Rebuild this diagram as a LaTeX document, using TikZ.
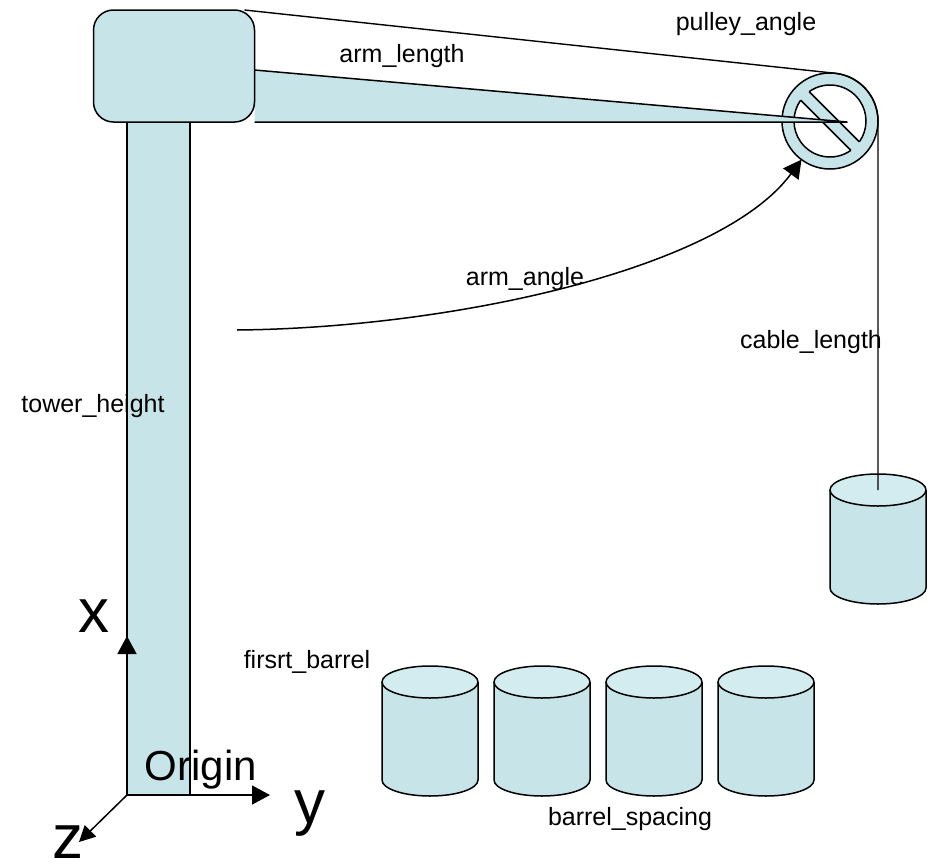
\documentclass[tikz,border=0pt]{standalone}
\usepackage{fontspec}
\setmainfont{Liberation Sans}
\usepackage{tikz}
\usetikzlibrary{arrows.meta,calc,backgrounds}
\definecolor{craneblue}{HTML}{C7E5E9}
\definecolor{cranetop}{HTML}{D3ECEF}

\begin{document}
\begin{tikzpicture}[
  x=1pt, y=-1pt,
  part/.style={
    draw=black, fill=craneblue, line width=1.5pt, line join=round,
  },
  axis/.style={
    -{Triangle[length=18pt,width=19pt]}, line width=1.5pt,
  },
  cable/.style={line width=1.4pt},
  tag/.style={font=\fontsize{25}{30}\selectfont, anchor=base, inner sep=0pt},
  bigtag/.style={font=\fontsize{62}{70}\selectfont, anchor=base, inner sep=0pt},
  barrel/.pic={
    \filldraw[part] (-48,0) -- (-48,98)
      arc[start angle=180, end angle=0, x radius=48, y radius=16] -- (48,0);
    \filldraw[part, fill=cranetop] (0,0) ellipse[x radius=48, y radius=16];
    \coordinate (-top) at (0,0);
  },
]
  \useasboundingbox (0,0) rectangle (935,863);

  % Tower and head
  \node[part, minimum width=63pt, minimum height=673pt, inner sep=0pt,
    outer sep=0pt, anchor=south west] (tower) at (127,795) {};
  \node[part, rounded corners=20pt, minimum width=161pt, minimum height=112pt,
    inner sep=0pt, outer sep=0pt] (head) at (174,66) {};

  \begin{scope}[on background layer]
    % Pulley (ring with a bar across)
    \node[part, circle, minimum size=96pt, inner sep=0pt, outer sep=0pt]
      (pulley) at (830,121) {};
    \begin{scope}[shift={(pulley.center)}, rotate=-45, line width=1.5pt]
      \fill[white] (0,0) circle[radius=36];
      \fill[craneblue] (-37,-6) rectangle (37,6);
      \draw (9.6:36) arc[start angle=9.6, end angle=170.4, radius=36];
      \draw (189.6:36) arc[start angle=189.6, end angle=350.4, radius=36];
      \draw (170.4:36) -- (9.6:36);
      \draw (189.6:36) -- (350.4:36);
    \end{scope}

    % Arm
    \coordinate (armtip) at (847,122);
    \filldraw[part] ([yshift=-4pt]head.east) -- (armtip) -- (head.south east);
  \end{scope}

  % Barrels
  \foreach \i in {0,...,3}
    \pic (b\i) at (430+112*\i,682) {barrel};
  \pic (hang) at (878,490) {barrel};

  % Cable over the pulley
  \draw[cable] ([xshift=-10pt]head.north east)
    -- ($(pulley.center)+(-84:48)$)
    arc[start angle=-84, end angle=0, radius=48] -- (hang-top);

  % Arm angle
  \coordinate (swing) at (237,330);
  \draw[axis] (swing) .. controls (450,328) and (720,270) .. (pulley);

  % Axes
  \coordinate (origin) at (127,795);
  \coordinate (xend) at (127,636);
  \coordinate (yend) at (270,795);
  \coordinate (zend) at (79,842);
  \draw[axis] (origin) -- (xend);
  \draw[axis] (origin) -- (yend);
  \draw[axis, -{Triangle[length=16pt,width=16pt]}] (origin) -- (zend);

  % Labels
  \node[tag] (armlength) at (402,62) {arm\_length};
  \node[tag] (pulleyangle) at (746,30) {pulley\_angle};
  \node[tag] (armangle) at (525,285) {arm\_angle};
  \node[tag] (cablelength) at (811,348) {cable\_length};
  \node[tag] (towerheight) at (93,412) {tower\_height};
  \node[tag] (firstbarrel) at (307,668) {firsrt\_barrel};
  \node[tag] (spacing) at (630,825) {barrel\_spacing};
  \node[bigtag] (xlabel) at (94,632) {x};
  \node[bigtag] (ylabel) at (310,823) {y};
  \node[bigtag] (zlabel) at (68,858) {z};
  \node[tag, font=\fontsize{42}{48}\selectfont] (originlabel) at (201,780) {Origin};
\end{tikzpicture}
\end{document}
